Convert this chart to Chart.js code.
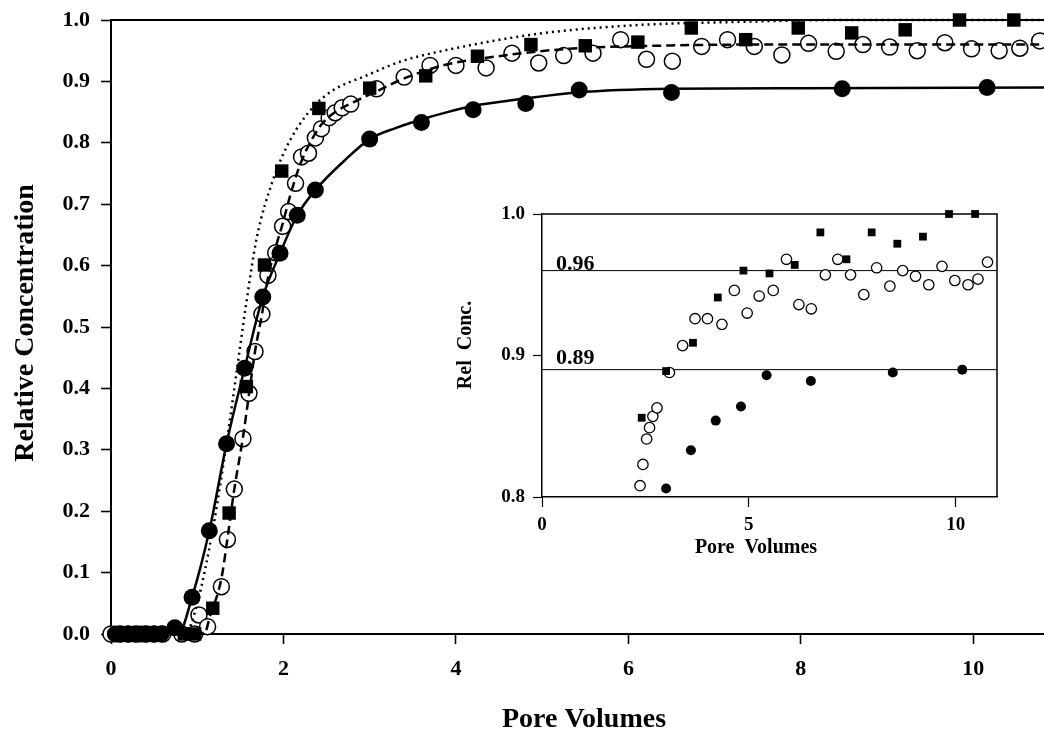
<!DOCTYPE html>
<html>
<head>
<meta charset="utf-8">
<script src="https://cdn.jsdelivr.net/npm/chart.js@4/dist/chart.umd.min.js"></script>
<style>
  body { margin: 0; background: #fff; }
  #wrap { position: relative; width: 1044px; height: 731px; }
  #main { position: absolute; left: 0; top: 0; }
  #inset { position: absolute; left: 440px; top: 195px; }
</style>
</head>
<body>
<div id="wrap">
  <canvas id="main" width="1044" height="731"></canvas>
  <canvas id="inset" width="580" height="370"></canvas>
</div>
<script>
// measured points (pore volumes, relative concentration)
const filledX = [0.05, 0.12, 0.2, 0.27, 0.35, 0.42, 0.5, 0.58, 0.74, 0.94, 1.14, 1.34, 1.55, 1.76, 1.96, 2.16, 2.37, 3.0, 3.6, 4.2, 4.81, 5.43, 6.5, 8.48, 10.16];
const filledY = [0, 0, 0, 0, 0, 0, 0, 0, 0.01, 0.06, 0.168, 0.31, 0.433, 0.549, 0.62, 0.682, 0.723, 0.806, 0.833, 0.854, 0.864, 0.886, 0.882, 0.888, 0.89];

const openX = [0, 0.1, 0.2, 0.3, 0.4, 0.5, 0.6, 0.82, 0.97, 1.02, 1.12, 1.28, 1.35, 1.43, 1.53, 1.6, 1.67, 1.75, 1.82, 1.91, 1.99, 2.06, 2.14, 2.21, 2.29, 2.37, 2.44, 2.53, 2.6, 2.68, 2.78, 3.08, 3.4, 3.7, 4.0, 4.35, 4.65, 4.96, 5.25, 5.59, 5.91, 6.21, 6.51, 6.85, 7.15, 7.46, 7.78, 8.09, 8.41, 8.72, 9.03, 9.35, 9.67, 9.98, 10.3, 10.54, 10.77];
const openY = [0, 0, 0, 0, 0, 0, 0, 0, 0, 0.031, 0.012, 0.077, 0.154, 0.236, 0.318, 0.392, 0.46, 0.521, 0.584, 0.621, 0.664, 0.688, 0.734, 0.777, 0.783, 0.808, 0.823, 0.841, 0.849, 0.857, 0.863, 0.888, 0.907, 0.926, 0.926, 0.922, 0.946, 0.93, 0.942, 0.946, 0.968, 0.936, 0.933, 0.957, 0.968, 0.957, 0.943, 0.962, 0.949, 0.96, 0.956, 0.95, 0.963, 0.953, 0.95, 0.954, 0.966];

const squareX = [0.1, 0.2, 0.3, 0.4, 0.5, 0.85, 0.97, 1.18, 1.37, 1.57, 1.78, 1.98, 2.41, 3.0, 3.65, 4.25, 4.87, 5.5, 6.11, 6.73, 7.36, 7.97, 8.59, 9.21, 9.84, 10.47];
const squareY = [0, 0, 0, 0, 0, 0, 0, 0.042, 0.197, 0.403, 0.601, 0.754, 0.856, 0.889, 0.909, 0.941, 0.96, 0.958, 0.964, 0.987, 0.968, 0.987, 0.979, 0.984, 1.0, 1.0];

// fitted curves
const solidX = [0, 0.78, 0.94, 1.14, 1.34, 1.55, 1.76, 1.96, 2.16, 2.37, 2.7, 3.0, 3.3, 3.6, 3.9, 4.2, 4.8, 5.4, 6.5, 8.0, 10.85];
const solidY = [0, 0, 0.06, 0.168, 0.31, 0.433, 0.549, 0.62, 0.682, 0.723, 0.77, 0.806, 0.824, 0.838, 0.85, 0.86, 0.872, 0.882, 0.888, 0.889, 0.89];

const dashedX = [0, 1.08, 1.15, 1.28, 1.35, 1.43, 1.53, 1.6, 1.67, 1.75, 1.82, 1.91, 1.99, 2.08, 2.2, 2.42, 2.6, 2.81, 3.1, 3.35, 3.85, 4.6, 5.3, 6.3, 7.5, 10.85];
const dashedY = [0, 0, 0.03, 0.09, 0.155, 0.236, 0.32, 0.39, 0.46, 0.52, 0.58, 0.63, 0.668, 0.715, 0.767, 0.826, 0.85, 0.866, 0.885, 0.902, 0.926, 0.943, 0.953, 0.958, 0.96, 0.96];

const dottedX = [0, 0.86, 1.0, 1.18, 1.36, 1.46, 1.57, 1.69, 1.88, 2.08, 2.35, 2.58, 2.97, 3.35, 3.89, 4.98, 6.14, 7.3, 8.5, 10.85];
const dottedY = [0, 0, 0.05, 0.17, 0.33, 0.43, 0.54, 0.645, 0.74, 0.805, 0.859, 0.886, 0.91, 0.932, 0.951, 0.978, 0.992, 0.997, 1.0, 1.0];

const xTicks = [0, 2, 4, 6, 8, 10];
const yTicks = [0, 0.1, 0.2, 0.3, 0.4, 0.5, 0.6, 0.7, 0.8, 0.9, 1.0];
const insetXTicks = [0, 5, 10];
const insetYTicks = [0.8, 0.9, 1.0];
const insetLevels = [0.96, 0.89];

const FONT = '"Liberation Serif", "Times New Roman", serif';
Chart.defaults.font.family = FONT;
Chart.defaults.color = '#000';

function zip(xs, ys) {
  return xs.map((x, i) => ({ x: x, y: ys[i] }));
}
function insetOnly(pts) {
  return pts.filter(p => p.y >= 0.8);
}

// top/right frame lines plus axis titles
const decor = {
  id: 'decor',
  afterDraw(chart, args, o) {
    const ctx = chart.ctx, a = chart.chartArea;
    ctx.save();
    ctx.strokeStyle = '#000';
    ctx.lineWidth = o.frameWidth;
    ctx.beginPath();
    ctx.moveTo(a.left, a.top);
    ctx.lineTo(a.right, a.top);
    if (o.rightLine) ctx.lineTo(a.right, a.bottom);
    ctx.stroke();

    ctx.fillStyle = '#000';
    ctx.textAlign = 'center';
    ctx.textBaseline = 'alphabetic';
    ctx.font = 'bold ' + o.xTitle.size + 'px ' + FONT;
    ctx.fillText(o.xTitle.text, o.xTitle.x, o.xTitle.y);

    ctx.save();
    ctx.translate(o.yTitle.x, o.yTitle.y);
    ctx.rotate(-Math.PI / 2);
    ctx.font = 'bold ' + o.yTitle.size + 'px ' + FONT;
    ctx.fillText(o.yTitle.text, 0, 0);
    ctx.restore();

    if (o.levels) {
      const xs = chart.scales.x, ys = chart.scales.y;
      ctx.textAlign = 'left';
      ctx.font = 'bold 22px ' + FONT;
      o.levels.forEach((v, i) => {
        ctx.fillText(v.toFixed(2), xs.getPixelForValue(0) + 14, ys.getPixelForValue(v) - o.levelGap[i]);
      });
    }
    ctx.restore();
  }
};

function axis(min, max, ticks, size, fit, opt) {
  return {
    type: 'linear',
    min: min,
    max: max,
    afterBuildTicks: s => { s.ticks = ticks.map(v => ({ value: v })); },
    afterFit: s => {
      if (opt.vertical) { s.width = fit; s.paddingTop = 0; s.paddingBottom = 0; }
      else { s.height = fit; s.paddingLeft = 0; s.paddingRight = 0; }
    },
    border: { display: true, color: '#000', width: opt.border },
    grid: { display: true, drawOnChartArea: false, drawTicks: true, tickLength: opt.tickLength, tickWidth: opt.border * 0.8, tickColor: '#000' },
    ticks: {
      autoSkip: false, maxRotation: 0, padding: opt.padding, color: '#000',
      font: { size: size, weight: 'bold' },
      callback: v => opt.fmt(v)
    }
  };
}

new Chart(document.getElementById('main'), {
  type: 'scatter',
  data: {
    datasets: [
      { data: zip(filledX, filledY), showLine: false, pointStyle: 'circle', pointRadius: 8.5, backgroundColor: '#000', borderColor: '#000', borderWidth: 0, order: 0, clip: false },
      { data: zip(solidX, solidY), showLine: true, pointRadius: 0, borderColor: '#000', borderWidth: 2.5, cubicInterpolationMode: 'monotone', order: 1, clip: false },
      { data: zip(squareX, squareY), showLine: false, pointStyle: 'rect', pointRadius: 9.5, backgroundColor: '#000', borderColor: '#000', borderWidth: 0, order: 2, clip: false },
      { data: zip(dottedX, dottedY), showLine: true, pointRadius: 0, borderColor: '#000', borderWidth: 2.5, borderDash: [2, 4], cubicInterpolationMode: 'monotone', order: 3, clip: false },
      { data: zip(dashedX, dashedY), showLine: true, pointRadius: 0, borderColor: '#000', borderWidth: 2.5, borderDash: [9, 5], cubicInterpolationMode: 'monotone', order: 4, clip: false },
      { data: zip(openX, openY), showLine: false, pointStyle: 'circle', pointRadius: 8, backgroundColor: '#fff', borderColor: '#000', borderWidth: 1.5, order: 5, clip: false }
    ]
  },
  options: {
    responsive: false,
    animation: false,
    events: [],
    layout: { autoPadding: false, padding: { top: 20, right: 0, left: 0, bottom: 0 } },
    scales: {
      x: axis(0, 10.82, xTicks, 22, 97, { vertical: false, border: 2, tickLength: 10, padding: 12, fmt: v => String(v) }),
      y: axis(0, 1, yTicks, 22, 111, { vertical: true, border: 2, tickLength: 10, padding: 11, fmt: v => v.toFixed(1) })
    },
    plugins: {
      legend: { display: false },
      tooltip: { enabled: false },
      decor: {
        frameWidth: 2, rightLine: false,
        xTitle: { text: 'Pore Volumes', x: 584, y: 727, size: 28 },
        yTitle: { text: 'Relative Concentration', x: 33, y: 323, size: 28 }
      }
    }
  },
  plugins: [decor]
});

new Chart(document.getElementById('inset'), {
  type: 'scatter',
  data: {
    datasets: [
      { data: insetOnly(zip(filledX, filledY)), showLine: false, pointStyle: 'circle', pointRadius: 5, backgroundColor: '#000', borderColor: '#000', borderWidth: 0, order: 0, clip: false },
      { data: insetOnly(zip(squareX, squareY)), showLine: false, pointStyle: 'rect', pointRadius: 5.5, backgroundColor: '#000', borderColor: '#000', borderWidth: 0, order: 1, clip: false },
      { data: insetOnly(zip(openX, openY)), showLine: false, pointStyle: 'circle', pointRadius: 5.2, backgroundColor: '#fff', borderColor: '#000', borderWidth: 1.3, order: 2, clip: false },
      { data: zip([0, 11], [insetLevels[0], insetLevels[0]]), showLine: true, pointRadius: 0, borderColor: '#000', borderWidth: 1, order: 3 },
      { data: zip([0, 11], [insetLevels[1], insetLevels[1]]), showLine: true, pointRadius: 0, borderColor: '#000', borderWidth: 1, order: 4 }
    ]
  },
  options: {
    responsive: false,
    animation: false,
    events: [],
    layout: { autoPadding: false, padding: { top: 19, right: 23, left: 0, bottom: 0 } },
    scales: {
      x: axis(0, 11, insetXTicks, 19, 68, { vertical: false, border: 1.5, tickLength: 10, padding: 7, fmt: v => String(v) }),
      y: axis(0.8, 1.0, insetYTicks, 19, 102, { vertical: true, border: 1.5, tickLength: 9, padding: 8, fmt: v => v.toFixed(1) })
    },
    plugins: {
      legend: { display: false },
      tooltip: { enabled: false },
      decor: {
        frameWidth: 1.5, rightLine: true,
        xTitle: { text: 'Pore  Volumes', x: 316, y: 358, size: 20 },
        yTitle: { text: 'Rel  Conc.', x: 31, y: 150, size: 20 },
        levels: insetLevels, levelGap: [1, 6]
      }
    }
  },
  plugins: [decor]
});
</script>
</body>
</html>
